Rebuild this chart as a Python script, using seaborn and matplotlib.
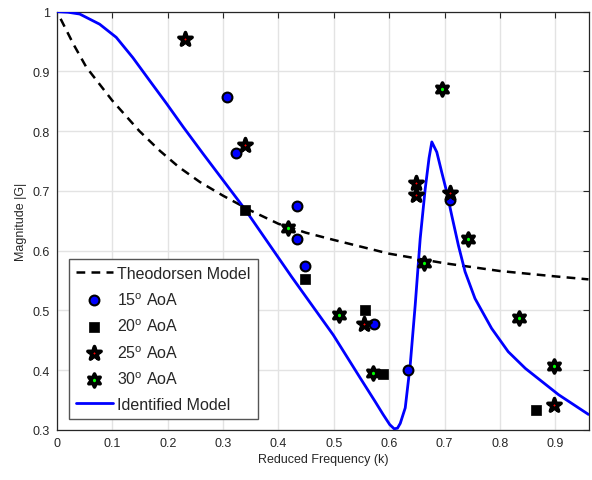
import numpy as np
import pandas as pd
import matplotlib
matplotlib.use("Agg")
import matplotlib.pyplot as plt
import seaborn as sns

# ---- data ----
theo_k = [0.0065, 0.03, 0.053, 0.1, 0.149, 0.186, 0.22, 0.258, 0.3, 0.35, 0.4, 0.45, 0.5, 0.6, 0.7, 0.8, 0.9, 0.96]
theo_g = [0.988, 0.945, 0.907, 0.851, 0.800, 0.767, 0.740, 0.715, 0.692, 0.667, 0.645, 0.630, 0.618, 0.595, 0.579, 0.566, 0.557, 0.552]

ident_k = [0.0, 0.02, 0.041, 0.077, 0.107, 0.137, 0.167, 0.198, 0.228, 0.264, 0.339, 0.424, 0.499, 0.547,
           0.575, 0.589, 0.601, 0.609, 0.615, 0.62, 0.629, 0.638, 0.647, 0.656, 0.665, 0.672, 0.677,
           0.686, 0.695, 0.704, 0.713, 0.725, 0.737, 0.755, 0.785, 0.815, 0.846, 0.876, 0.906, 0.96]
ident_g = [1.0, 0.999, 0.996, 0.979, 0.957, 0.923, 0.885, 0.846, 0.807, 0.762, 0.670, 0.556, 0.459, 0.388,
           0.347, 0.326, 0.309, 0.302, 0.303, 0.311, 0.337, 0.409, 0.509, 0.62, 0.703, 0.755, 0.782,
           0.765, 0.731, 0.698, 0.659, 0.609, 0.565, 0.520, 0.470, 0.431, 0.403, 0.381, 0.359, 0.326]

aoa15_k = [0.307, 0.324, 0.433, 0.433, 0.448, 0.573, 0.634, 0.710]
aoa15_g = [0.857, 0.763, 0.675, 0.620, 0.574, 0.478, 0.400, 0.684]

aoa20_k = [0.339, 0.448, 0.557, 0.588, 0.866]
aoa20_g = [0.668, 0.552, 0.500, 0.393, 0.333]

aoa25_k = [0.231, 0.340, 0.554, 0.648, 0.648, 0.710, 0.897]
aoa25_g = [0.955, 0.777, 0.478, 0.713, 0.694, 0.697, 0.341]

aoa30_k = [0.418, 0.509, 0.571, 0.663, 0.695, 0.742, 0.835, 0.897]
aoa30_g = [0.638, 0.492, 0.395, 0.579, 0.870, 0.619, 0.488, 0.407]

x_ticks = [0, 0.1, 0.2, 0.3, 0.4, 0.5, 0.6, 0.7, 0.8, 0.9]
y_ticks = [0.3, 0.4, 0.5, 0.6, 0.7, 0.8, 0.9, 1.0]
y_tick_labels = ["0.3", "0.4", "0.5", "0.6", "0.7", "0.8", "0.9", "1"]

sns.set_style("white")
plt.rcParams['font.family'] = ['Liberation Sans', 'DejaVu Sans']
plt.rcParams['mathtext.fontset'] = 'custom'
plt.rcParams['mathtext.rm'] = 'Liberation Sans'

fig = plt.figure(figsize=(5.92, 4.81), dpi=100)
ax = fig.add_axes([0.0963, 0.104, 0.8987, 0.8697])

hexagram = (6, 1, 0)

sns.lineplot(x=theo_k, y=theo_g, ax=ax, color='black', linewidth=1.8, dashes=False,
             linestyle=(0, (3.5, 2.5)), label='Theodorsen Model', sort=False, zorder=3)
sns.lineplot(x=ident_k, y=ident_g, ax=ax, color=(0, 0, 1), linewidth=2.0,
             label='Identified Model', sort=False, zorder=3)
sns.scatterplot(x=aoa15_k, y=aoa15_g, ax=ax, marker='o', color=(0, 0, 1), edgecolor='black',
                linewidth=1.5, s=50, label='15$^{\\mathrm{o}}$ AoA', zorder=4)
sns.scatterplot(x=aoa20_k, y=aoa20_g, ax=ax, marker='s', color='black', edgecolor='black',
                linewidth=0.5, s=62, label='20$^{\\mathrm{o}}$ AoA', zorder=4)
sns.scatterplot(x=aoa25_k, y=aoa25_g, ax=ax, marker='*', color='red', edgecolor='black',
                linewidth=2.6, s=100, label='25$^{\\mathrm{o}}$ AoA', zorder=4)
sns.scatterplot(x=aoa30_k, y=aoa30_g, ax=ax, marker=hexagram, color=(0, 1, 0), edgecolor='black',
                linewidth=2.6, s=88, label='30$^{\\mathrm{o}}$ AoA', zorder=4)

ax.set_xlim(0, 0.961)
ax.set_ylim(0.3, 1.0)
ax.set_xticks(x_ticks)
ax.set_xticklabels([("%g" % t) for t in x_ticks])
ax.set_yticks(y_ticks)
ax.set_yticklabels(y_tick_labels)
ax.grid(True, color='#e3e3e3', linewidth=1.0, zorder=0)
ax.set_axisbelow(True)
ax.tick_params(direction='in', top=True, right=True, length=4, width=0.8,
               labelsize=9, colors='#262626', pad=5)
for sp in ax.spines.values():
    sp.set_color('#262626')
    sp.set_linewidth(0.9)
ax.set_xlabel('Reduced Frequency (k)', fontsize=9, color='#262626', labelpad=3)
ax.set_ylabel('Magnitude |G|', fontsize=9, color='#262626', labelpad=4)

handles, labels = ax.get_legend_handles_labels()
order = ['Theodorsen Model', '15$^{\\mathrm{o}}$ AoA', '20$^{\\mathrm{o}}$ AoA',
         '25$^{\\mathrm{o}}$ AoA', '30$^{\\mathrm{o}}$ AoA', 'Identified Model']
hmap = dict(zip(labels, handles))
leg = ax.legend([hmap[l] for l in order], order, loc='lower left', bbox_to_anchor=(0.022, 0.026),
                fontsize=11.5, frameon=True, fancybox=False, edgecolor='#555555',
                framealpha=1, handlelength=2.3, handletextpad=0.3, labelspacing=0.62,
                borderpad=0.45, borderaxespad=0)
leg.get_frame().set_linewidth(1.0)

fig.savefig('out.png', dpi=100)
